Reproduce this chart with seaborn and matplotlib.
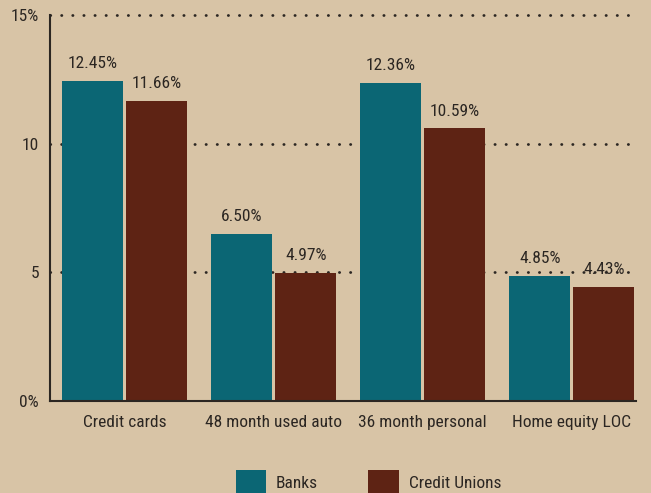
import matplotlib
matplotlib.use("Agg")
import matplotlib.pyplot as plt
import seaborn as sns
import pandas as pd
from matplotlib.patches import Patch

categories = ["Credit cards", "48 month used auto", "36 month personal", "Home equity LOC"]
banks = [12.45, 6.50, 12.36, 4.85]
credit_unions = [11.66, 4.97, 10.59, 4.43]
series_names = ["Banks", "Credit Unions"]
ytick_values = [0, 5, 10, 15]
ytick_labels = ["0%", "5", "10", "15%"]

BG = "#D8C4A6"
TEAL = "#0B6674"
BROWN = "#5E2314"
INK = "#2B2622"

sns.set_theme(style="white")
plt.rcParams["font.family"] = ["Roboto Condensed", "Liberation Sans Narrow", "Roboto", "DejaVu Sans"]
FS = 12.5

df = pd.DataFrame({
    "category": categories * 2,
    "rate": banks + credit_unions,
    "lender": [series_names[0]] * len(categories) + [series_names[1]] * len(categories),
})

fig = plt.figure(figsize=(6.51, 4.93), dpi=100, facecolor=BG)
ax = fig.add_axes([50 / 651, 1 - 401 / 493, 586 / 651, 386 / 493])
ax.set_facecolor(BG)

sns.barplot(data=df, x="category", y="rate", hue="lender", order=categories,
            hue_order=series_names, palette=[TEAL, BROWN], width=0.86, gap=0.05,
            saturation=1, linewidth=0, ax=ax, legend=False, zorder=2)

# dotted guide lines behind the bars
for v in ytick_values[1:]:
    ax.axhline(v, color=INK, linestyle=(0, (0.1, 3.9)), linewidth=2.0,
               dash_capstyle="round", zorder=1, clip_on=False)

for container in ax.containers:
    ax.bar_label(container, labels=[f"{b.get_height():.2f}%" for b in container],
                 padding=7, fontsize=FS, color=INK)

ax.set_xlim(-0.5, 3.43)
ax.set_ylim(0, 15)
ax.set_yticks(ytick_values)
ax.set_yticklabels(ytick_labels, fontsize=FS, color=INK)
ax.set_xticks(range(len(categories)))
ax.set_xticklabels(categories, fontsize=FS, color=INK)
ax.tick_params(axis="both", length=0)
ax.tick_params(axis="x", pad=10)
ax.tick_params(axis="y", pad=8)
ax.set_xlabel("")
ax.set_ylabel("")

for side in ["top", "right"]:
    ax.spines[side].set_visible(False)
for side in ["left", "bottom"]:
    ax.spines[side].set_color(INK)
    ax.spines[side].set_linewidth(1.5)

handles = [Patch(facecolor=TEAL, edgecolor="none"), Patch(facecolor=BROWN, edgecolor="none")]
fig.legend(handles, series_names, loc="center", bbox_to_anchor=(0.566, 0.022),
           ncol=2, frameon=False, fontsize=FS, handlelength=1.75, handleheight=1.8,
           handletextpad=0.57, columnspacing=2.9, labelcolor=INK)

fig.savefig("out.png", dpi=100, facecolor=BG)
